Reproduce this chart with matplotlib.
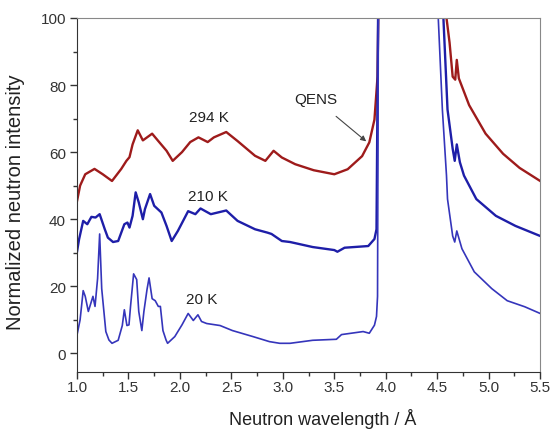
import matplotlib
matplotlib.use("Agg")
import matplotlib.pyplot as plt
from matplotlib.ticker import MultipleLocator

plt.rcParams['font.family'] = ['Liberation Sans', 'DejaVu Sans']

# 294 K
wl_294 = [1.00, 1.03, 1.08, 1.17, 1.25, 1.34, 1.43, 1.48, 1.51, 1.54, 1.59, 1.64, 1.73, 1.79,
          1.87, 1.93, 2.02, 2.10, 2.18, 2.27, 2.33, 2.45, 2.56, 2.73, 2.83, 2.91, 2.99, 3.12,
          3.30, 3.50, 3.63, 3.77, 3.84, 3.89, 3.92, 3.935, 3.95, 4.57, 4.59, 4.62, 4.65, 4.675,
          4.69, 4.71, 4.81, 4.97, 5.14, 5.30, 5.50]
int_294 = [45.4, 50, 53.4, 55, 53.4, 51.4, 55, 57.4, 58.5, 62.3, 66.5, 63.5, 65.5, 63.3,
           60.4, 57.4, 60, 63, 64.4, 63, 64.4, 66, 63.3, 58.9, 57.4, 60.4, 58.4, 56.4,
           54.6, 53.4, 54.9, 58.8, 62.9, 69.7, 82.5, 120, 400, 400, 100, 92.6, 82.5, 81.6,
           87.5, 82, 74, 65.5, 59.5, 55.3, 51.4]

# 210 K
wl_210 = [1.00, 1.02, 1.06, 1.10, 1.14, 1.18, 1.22, 1.27, 1.30, 1.35, 1.40, 1.46, 1.49, 1.51,
          1.54, 1.57, 1.60, 1.64, 1.66, 1.71, 1.75, 1.82, 1.87, 1.92, 1.98, 2.08, 2.15, 2.20,
          2.30, 2.45, 2.56, 2.73, 2.85, 2.89, 2.99, 3.07, 3.29, 3.50, 3.53, 3.60, 3.83, 3.89,
          3.91, 3.93, 3.95, 4.53, 4.56, 4.60, 4.65, 4.67, 4.69, 4.72, 4.76, 4.88, 5.07, 5.26, 5.50]
int_210 = [30.3, 34, 39.5, 38.5, 40.7, 40.5, 41.5, 37, 34.5, 33.2, 33.5, 38.5, 39, 37.5,
           41, 48, 45, 40, 43, 47.5, 44, 42, 38, 33.5, 36.5, 42.4, 41.5, 43.2,
           41.5, 42.6, 39.5, 37, 36, 35.6, 33.5, 33.2, 31.7, 30.8, 30.3, 31.5, 32, 34.1,
           37, 120, 400, 400, 100, 72.7, 61, 57.4, 62.3, 57, 53, 46, 41, 38, 35]

# 20 K
wl_20 = [1.00, 1.03, 1.06, 1.08, 1.11, 1.14, 1.155, 1.175, 1.20, 1.22, 1.24, 1.28, 1.31, 1.34,
         1.40, 1.44, 1.46, 1.485, 1.505, 1.52, 1.55, 1.58, 1.60, 1.63, 1.65, 1.68, 1.70, 1.73,
         1.76, 1.79, 1.81, 1.835, 1.865, 1.88, 1.95, 2.02, 2.08, 2.13, 2.175, 2.21, 2.26, 2.39,
         2.51, 2.71, 2.87, 2.97, 3.07, 3.29, 3.52, 3.57, 3.78, 3.84, 3.89, 3.91, 3.92, 3.93,
         3.95, 4.49, 4.51, 4.55, 4.59, 4.60, 4.65, 4.67, 4.69, 4.74, 4.86, 5.03, 5.18, 5.35, 5.50]
int_20 = [5.5, 10, 18.7, 17, 12.5, 15.5, 17, 14, 22.3, 35.6, 19.3, 6.5, 4, 3,
          3.9, 8.3, 13, 8.3, 8.5, 14, 23.7, 22, 12.5, 6.8, 12.5, 19, 22.5, 16.3,
          15.7, 14, 14, 6.8, 4, 3, 5, 8.5, 11.9, 9.8, 11.5, 9.5, 8.9, 8.3,
          6.8, 5, 3.5, 3, 3, 3.9, 4.2, 5.6, 6.5, 6, 8.4, 11, 17, 120,
          400, 400, 100, 72.7, 53, 46, 35, 33.2, 36.5, 31.2, 24.3, 19.3, 15.7, 13.9, 11.9]

temps = ["294 K", "210 K", "20 K"]
label_pos = [(2.28, 70.6), (2.27, 47.0), (2.21, 16.3)]

fig = plt.figure(figsize=(5.54, 4.31), dpi=100)
ax = fig.add_axes([0.139, 0.135, 0.836, 0.821])

ax.plot(wl_294, int_294, color='#9e1b1b', lw=1.7)
ax.plot(wl_210, int_210, color='#1e1ea8', lw=1.7)
ax.plot(wl_20, int_20, color='#3535bb', lw=1.2)

for t, (x, y) in zip(temps, label_pos):
    ax.text(x, y, t, fontsize=11, ha='center', va='center', color='#222222')

ax.annotate("QENS", xy=(3.81, 63.2), xytext=(3.32, 75.7), fontsize=11,
            ha='center', va='center', color='#222222',
            arrowprops=dict(arrowstyle='-|>', color='#444444', lw=0.8,
                            shrinkA=8, shrinkB=0, mutation_scale=8))

ax.set_xlim(1.0, 5.5)
ax.set_ylim(-5.5, 100)
ax.xaxis.set_major_locator(MultipleLocator(0.5))
ax.xaxis.set_minor_locator(MultipleLocator(0.25))
ax.yaxis.set_major_locator(MultipleLocator(20))
ax.yaxis.set_minor_locator(MultipleLocator(10))
ax.set_yticks([0, 20, 40, 60, 80, 100])

ax.tick_params(which='both', direction='out', top=False, right=False,
               color='#333333', labelcolor='#333333', labelsize=11)
ax.tick_params(which='major', length=5, width=1, pad=3)
ax.tick_params(axis='x', which='major', pad=1)
ax.tick_params(which='minor', length=3, width=1)

for s in ['top', 'right']:
    ax.spines[s].set_color('#888888')
for s in ['left', 'bottom']:
    ax.spines[s].set_color('#333333')

ax.set_xlabel("Neutron wavelength / Å", fontsize=13, color='#222222')
ax.set_ylabel("Normalized neutron intensity", fontsize=14.5, color='#222222')
ax.xaxis.set_label_coords(0.53, -0.102)
ax.yaxis.set_label_coords(-0.112, 0.483)

fig.savefig("out.png", dpi=100)
